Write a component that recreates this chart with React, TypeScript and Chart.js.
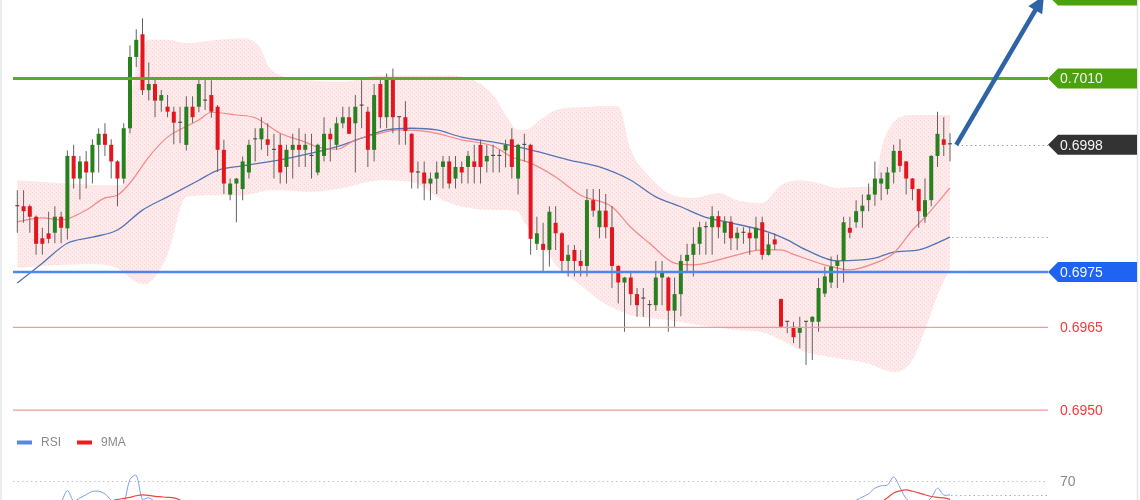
import React, { useEffect, useRef } from 'react';
import { Chart, registerables } from 'chart.js';

Chart.register(...registerables);

// ---------- candle data (index 0..149) ----------
const opens = [
  0.69869, 0.69869, 0.69869, 0.6985, 0.69811, 0.6982, 0.69821, 0.6985, 0.69829, 0.6996,
  0.69919, 0.6995, 0.6993, 0.6998, 0.7, 0.6998, 0.6995, 0.69919, 0.7001, 0.70139,
  0.7018, 0.70079, 0.7009, 0.7006, 0.70049, 0.7004, 0.7002, 0.6998, 0.70049, 0.70049,
  0.7006, 0.7007, 0.70049, 0.69971, 0.6989, 0.6991, 0.699, 0.6993, 0.6999, 0.6999,
  0.6999, 0.69971, 0.6998, 0.6994, 0.69971, 0.6998, 0.69971, 0.6996, 0.6993, 0.6996,
  0.7, 0.6998, 0.70019, 0.7003, 0.70019, 0.70051, 0.7004, 0.69971, 0.7009, 0.7003,
  0.70099, 0.7003, 0.7003, 0.7, 0.6993, 0.6993, 0.6991, 0.69919, 0.6994, 0.6995,
  0.69919, 0.6994, 0.6994, 0.6995, 0.6998, 0.6995, 0.6996, 0.6996, 0.6997, 0.6999,
  0.69919, 0.6998, 0.6998, 0.69801, 0.69801, 0.6979, 0.69839, 0.6982, 0.6977, 0.6979,
  0.6977, 0.69761, 0.6988, 0.69831, 0.69861, 0.69831, 0.69761, 0.69731, 0.6974, 0.6971,
  0.69702, 0.6969, 0.6969, 0.6974, 0.6974, 0.6968, 0.6971, 0.6977, 0.69781, 0.69801,
  0.69831, 0.69831, 0.69851, 0.69821, 0.69841, 0.69811, 0.69821, 0.69821, 0.69811, 0.6984,
  0.69781, 0.69809, 0.69701, 0.6966, 0.69651, 0.6964, 0.6966, 0.6966, 0.6966, 0.69711,
  0.69731, 0.69761, 0.6977, 0.6983, 0.6984, 0.6986, 0.6988, 0.6989, 0.6991, 0.699,
  0.6993, 0.69969, 0.6995, 0.69919, 0.699, 0.6985, 0.6988, 0.6996, 0.6999, 0.69981,
];
const highs = [
  0.69898, 0.69898, 0.69872, 0.69852, 0.6983, 0.69859, 0.69869, 0.69859, 0.6997, 0.6998,
  0.6996, 0.69969, 0.6999, 0.7001, 0.70019, 0.6999, 0.69952, 0.70019, 0.7016, 0.70189,
  0.70209, 0.70129, 0.701, 0.70079, 0.7007, 0.70049, 0.70049, 0.70068, 0.70068, 0.701,
  0.701, 0.70097, 0.70052, 0.69989, 0.69919, 0.6992, 0.69959, 0.69989, 0.7001, 0.7003,
  0.70019, 0.7, 0.7, 0.6998, 0.7, 0.7001, 0.7, 0.7, 0.69982, 0.7003,
  0.7001, 0.7003, 0.70049, 0.70049, 0.7007, 0.70097, 0.70049, 0.7009, 0.70099, 0.70109,
  0.70118, 0.70031, 0.70059, 0.70001, 0.6995, 0.6995, 0.6993, 0.6995, 0.6996, 0.6996,
  0.6996, 0.6995, 0.69969, 0.6998, 0.69989, 0.6998, 0.6998, 0.69971, 0.69989, 0.7001,
  0.69982, 0.7, 0.69982, 0.6985, 0.69839, 0.69869, 0.69869, 0.69822, 0.69799, 0.69799,
  0.6979, 0.699, 0.699, 0.699, 0.69891, 0.69869, 0.69762, 0.69741, 0.69751, 0.69721,
  0.69721, 0.69699, 0.6977, 0.6977, 0.69742, 0.6974, 0.69781, 0.69801, 0.69831, 0.69841,
  0.69841, 0.69869, 0.69861, 0.69851, 0.69851, 0.69831, 0.69831, 0.69831, 0.6985, 0.6985,
  0.6982, 0.6982, 0.69702, 0.69661, 0.6966, 0.69669, 0.69661, 0.6967, 0.69739, 0.6976,
  0.69778, 0.69781, 0.6985, 0.6985, 0.6988, 0.6989, 0.6991, 0.6995, 0.6993, 0.6994,
  0.6998, 0.6999, 0.69951, 0.6992, 0.69901, 0.69919, 0.69961, 0.7004, 0.7003, 0.70001,
];
const lows = [
  0.69821, 0.69839, 0.69821, 0.69781, 0.69781, 0.69802, 0.69802, 0.69802, 0.69809, 0.69901,
  0.69881, 0.69901, 0.6991, 0.6993, 0.6996, 0.69919, 0.69869, 0.6991, 0.70001, 0.70121,
  0.7007, 0.7006, 0.7003, 0.7004, 0.7003, 0.69981, 0.69983, 0.6997, 0.7002, 0.70039,
  0.70043, 0.70029, 0.69931, 0.69891, 0.6988, 0.6984, 0.6988, 0.69919, 0.6995, 0.69971,
  0.6996, 0.69919, 0.6991, 0.6991, 0.69919, 0.6994, 0.6994, 0.69919, 0.69925, 0.6995,
  0.6995, 0.69971, 0.7001, 0.7, 0.6993, 0.7001, 0.6994, 0.6995, 0.7001, 0.7001,
  0.70001, 0.6998, 0.6998, 0.69901, 0.69901, 0.6988, 0.6988, 0.69891, 0.69901, 0.69901,
  0.69901, 0.6991, 0.6991, 0.6991, 0.6991, 0.6993, 0.6993, 0.6993, 0.69939, 0.69919,
  0.6989, 0.6995, 0.69781, 0.6979, 0.69751, 0.6976, 0.6979, 0.69751, 0.69742, 0.69742,
  0.69742, 0.69742, 0.6985, 0.69811, 0.69811, 0.69721, 0.69693, 0.69642, 0.6969, 0.69669,
  0.69669, 0.69651, 0.6968, 0.6969, 0.69642, 0.69651, 0.6967, 0.69751, 0.69742, 0.69781,
  0.69781, 0.69781, 0.69811, 0.69801, 0.6979, 0.6979, 0.69801, 0.69781, 0.6979, 0.69772,
  0.6978, 0.6979, 0.6965, 0.69639, 0.69621, 0.69612, 0.69582, 0.69591, 0.69642, 0.69705,
  0.69721, 0.69721, 0.69731, 0.69811, 0.6983, 0.6983, 0.6986, 0.6987, 0.6988, 0.6989,
  0.6991, 0.69931, 0.6989, 0.6988, 0.6983, 0.69839, 0.69869, 0.6994, 0.6996, 0.6995,
];
const closes = [
  0.69869, 0.6986, 0.6985, 0.69801, 0.69801, 0.6981, 0.6985, 0.6983, 0.6996, 0.69919,
  0.6995, 0.6993, 0.6998, 0.7, 0.6998, 0.6995, 0.69919, 0.7001, 0.70139, 0.7017,
  0.70079, 0.7009, 0.7006, 0.7007, 0.7004, 0.7002, 0.7002, 0.70049, 0.7003, 0.7009,
  0.7006, 0.7004, 0.69971, 0.6991, 0.6991, 0.69919, 0.6995, 0.6998, 0.6999, 0.7001,
  0.6998, 0.69971, 0.6993, 0.69971, 0.6998, 0.69971, 0.6998, 0.6996, 0.6998, 0.7,
  0.6999, 0.70019, 0.7003, 0.7, 0.70049, 0.70051, 0.69971, 0.7007, 0.7003, 0.70099,
  0.7003, 0.7003, 0.70005, 0.6993, 0.6993, 0.6991, 0.69919, 0.6993, 0.6995, 0.6991,
  0.6994, 0.6993, 0.6996, 0.6994, 0.6994, 0.6996, 0.6996, 0.6996, 0.6998, 0.6994,
  0.6998, 0.6998, 0.6981, 0.6982, 0.6979, 0.69859, 0.6982, 0.6977, 0.69781, 0.6977,
  0.69761, 0.6988, 0.69861, 0.69861, 0.69831, 0.69761, 0.69731, 0.6974, 0.6971, 0.6969,
  0.69702, 0.6969, 0.6974, 0.69751, 0.6968, 0.6971, 0.6977, 0.69781, 0.69801, 0.69831,
  0.69831, 0.69851, 0.69831, 0.69841, 0.69811, 0.69821, 0.69821, 0.69811, 0.6983, 0.69781,
  0.698, 0.698, 0.69651, 0.6966, 0.69632, 0.6965, 0.6966, 0.69669, 0.69721, 0.69742,
  0.6976, 0.6977, 0.6984, 0.69821, 0.6986, 0.6987, 0.6989, 0.69919, 0.69919, 0.6993,
  0.69969, 0.69942, 0.69919, 0.699, 0.6986, 0.6988, 0.6996, 0.7, 0.6998, 0.69981,
];

// ---------- Bollinger band (read at sampled candle indices) ----------
const bandIdx = [0, 4, 7, 10, 13, 16, 17, 18, 19, 20, 21, 24, 27, 32, 36, 39, 40, 42, 47, 52, 58, 63, 68, 72, 76, 78, 80, 81, 84, 86, 90, 93, 96, 98, 101, 104, 108, 112, 115, 119, 122, 125, 128, 131, 135, 137, 138, 140, 143, 145, 147, 149];
const bandUpper = [0.69916, 0.69913, 0.69911, 0.69909, 0.69907, 0.69907, 0.69911, 0.70043, 0.70124, 0.70155, 0.7017, 0.7017, 0.70164, 0.7017, 0.70173, 0.70152, 0.70124, 0.70106, 0.70097, 0.70094, 0.70106, 0.70106, 0.70106, 0.70101, 0.7007, 0.70034, 0.70007, 0.70007, 0.70029, 0.70043, 0.70048, 0.7005, 0.7005, 0.69971, 0.69922, 0.69893, 0.69884, 0.69893, 0.6988, 0.69875, 0.69907, 0.69916, 0.69911, 0.69902, 0.69904, 0.69904, 0.69971, 0.70021, 0.70034, 0.70034, 0.70034, 0.70034];
const bandLower = [0.69757, 0.69761, 0.69763, 0.69764, 0.69764, 0.69757, 0.6975, 0.69739, 0.69732, 0.69728, 0.6973, 0.69781, 0.69886, 0.69889, 0.69889, 0.69895, 0.69898, 0.69898, 0.69895, 0.69902, 0.69916, 0.69913, 0.6988, 0.69866, 0.69862, 0.69862, 0.69859, 0.6984, 0.69799, 0.69763, 0.69726, 0.69699, 0.69681, 0.69672, 0.69667, 0.69663, 0.69656, 0.69649, 0.69645, 0.69641, 0.69627, 0.69609, 0.696, 0.69594, 0.69587, 0.6958, 0.69575, 0.69569, 0.69591, 0.69645, 0.69708, 0.69757];

// ---------- moving averages ----------
const maRedIdx = [0, 4, 7, 11, 14, 16, 18, 21, 24, 28, 29, 31, 35, 38, 42, 46, 48, 51, 54, 57, 61, 66, 71, 76, 79, 82, 86, 90, 95, 98, 101, 105, 108, 112, 115, 119, 122, 124, 129, 133, 137, 140, 143, 145, 149];
const maRedVals = [0.69841, 0.69848, 0.69844, 0.69862, 0.69884, 0.69889, 0.69911, 0.69958, 0.69994, 0.70019, 0.70025, 0.70039, 0.70034, 0.70029, 0.70001, 0.69985, 0.69976, 0.69972, 0.69989, 0.69998, 0.70007, 0.70003, 0.69989, 0.69978, 0.69958, 0.69947, 0.69922, 0.69889, 0.69868, 0.69831, 0.69802, 0.69766, 0.69763, 0.69772, 0.69781, 0.6979, 0.6979, 0.69782, 0.69763, 0.69754, 0.69766, 0.69784, 0.69826, 0.69849, 0.69902];
const maBlueIdx = [0, 4, 8, 12, 16, 20, 24, 29, 32, 36, 42, 47, 52, 55, 59, 63, 67, 71, 77, 82, 88, 93, 98, 102, 106, 110, 114, 120, 123, 126, 131, 137, 140, 144, 149];
const maBlueVals = [0.6973, 0.69766, 0.69802, 0.69813, 0.69826, 0.69862, 0.69886, 0.69916, 0.69934, 0.69942, 0.69953, 0.69965, 0.6998, 0.69992, 0.70007, 0.7001, 0.70007, 0.69994, 0.69983, 0.69971, 0.69953, 0.6994, 0.69916, 0.69886, 0.69868, 0.69849, 0.69839, 0.69822, 0.69808, 0.6979, 0.6977, 0.69775, 0.69786, 0.6979, 0.69813];

// ---------- RSI panel (only the visible upper part) ----------
const rsiIdx = [6, 7, 8, 9, 10, 11, 12, 13, 14, 15, 16, 17, 18, 19, 20, 21, 22, 23, 80, 133, 134, 135, 136, 137, 138, 139, 140, 141, 142, 143, 144, 145, 146, 147, 148, 149];
const rsiVals = [54, 57, 64, 57.5, 59.4, 61.5, 63.5, 63.6, 62, 57.8, 53, 56, 71, 73.5, 58.5, 59.5, 57, 54, null, 56, 58, 60, 62, 65.5, 67, 67.5, 72.5, 66, 59, 56, 55, 56.5, 59.5, 65.5, 61.25, 61.25];
const rsiMaIdx = [14, 15, 16, 17, 18, 19, 20, 21, 22, 23, 24, 25, 26, 27, 80, 137, 138, 139, 140, 141, 142, 143, 144, 145, 146, 147, 148, 149];
const rsiMaVals = [56, 57.5, 58.4, 59.1, 59.8, 60.8, 61.3, 61, 60.4, 60.1, 59.8, 59.4, 58.1, 56, null, 54, 56.5, 59.5, 62.5, 63.8, 64.4, 63.6, 62.6, 61.4, 60.3, 59.8, 59.4, 58.5];
const rsiLevel = 70;
const rsiLevelLabel = '70';

// ---------- levels ----------
const levelValues = [0.7025, 0.701, 0.6998, 0.6975, 0.6965, 0.695];
const levelLabels = ['', '0.7010', '0.6998', '0.6975', '0.6965', '0.6950'];
const levelKinds = ['target', 'resistance', 'price', 'support', 'minor', 'minor'];
const arrowFrom = [150, 0.6998];
const arrowTo = [164, 0.7025];

const FONT = '"Liberation Sans", Arial, sans-serif';

function dotted(ctx: CanvasRenderingContext2D, x1: number, x2: number, y: number, color: string) {
  ctx.save();
  ctx.strokeStyle = color;
  ctx.lineWidth = 1;
  ctx.setLineDash([1.5, 3]);
  ctx.beginPath();
  ctx.moveTo(x1, Math.round(y) + 0.5);
  ctx.lineTo(x2, Math.round(y) + 0.5);
  ctx.stroke();
  ctx.restore();
}

function tag(ctx: CanvasRenderingContext2D, y: number, color: string) {
  ctx.fillStyle = color;
  ctx.beginPath();
  ctx.moveTo(1048, y);
  ctx.lineTo(1058, y - 10);
  ctx.lineTo(1137, y - 10);
  ctx.lineTo(1137, y + 10);
  ctx.lineTo(1058, y + 10);
  ctx.closePath();
  ctx.fill();
}

const overlayPlugin = {
  id: 'overlay',
  afterDatasetsDraw(chart: any) {
    const ctx: CanvasRenderingContext2D = chart.ctx;
    const xs = chart.scales.x;
    const ys = chart.scales.y;
    const yr = chart.scales.yr;
    const lineStart = 13;
    const lineEnd = 1048;
    const textX = 1060;
    ctx.save();

    // frame
    ctx.strokeStyle = '#e2e7ec';
    ctx.lineWidth = 1.5;
    ctx.beginPath();
    ctx.moveTo(1, 0);
    ctx.lineTo(1, 500);
    ctx.moveTo(1137.5, 0);
    ctx.lineTo(1137.5, 500);
    ctx.stroke();

    const lastX = xs.getPixelForValue(closes.length - 1);

    // MA and RSI extensions
    dotted(ctx, lastX + 2, lineEnd, ys.getPixelForValue(maBlueVals[maBlueVals.length - 1]), '#8ea7d8');
    dotted(ctx, lineStart, lineEnd, yr.getPixelForValue(rsiLevel), '#c2c2c2');
    dotted(ctx, lastX + 1, lineEnd, yr.getPixelForValue(rsiVals[rsiVals.length - 1] as number), '#9db3e8');

    ctx.font = `14px ${FONT}`;
    ctx.textBaseline = 'middle';
    ctx.textAlign = 'left';
    ctx.fillStyle = '#8a8a8a';
    ctx.fillText(rsiLevelLabel, textX, yr.getPixelForValue(rsiLevel) + 1);

    // levels
    levelValues.forEach((v, i) => {
      const y = ys.getPixelForValue(v);
      const kind = levelKinds[i];
      if (kind === 'resistance' || kind === 'support' || kind === 'minor') {
        ctx.save();
        ctx.strokeStyle = kind === 'resistance' ? '#5dab22' : kind === 'support' ? '#4f86ee' : '#f39a9a';
        ctx.lineWidth = kind === 'resistance' ? 3 : kind === 'support' ? 2.5 : 1.3;
        ctx.beginPath();
        ctx.moveTo(lineStart, y);
        ctx.lineTo(lineEnd, y);
        ctx.stroke();
        ctx.restore();
      }
      if (kind === 'price') {
        dotted(ctx, lastX + 7, lineEnd, y, '#a0a0a0');
      }
      if (kind === 'target' || kind === 'resistance') tag(ctx, y, '#4ca20c');
      if (kind === 'price') tag(ctx, y, '#333333');
      if (kind === 'support') tag(ctx, y, '#1f63f2');
      if (levelLabels[i]) {
        ctx.font = `14px ${FONT}`;
        ctx.fillStyle = kind === 'minor' ? '#f53b3b' : '#f4f4f4';
        ctx.fillText(levelLabels[i], textX, y + 1);
      }
    });

    // arrow
    const ax1 = xs.getPixelForValue(arrowFrom[0]);
    const ay1 = ys.getPixelForValue(arrowFrom[1]);
    const ax2 = xs.getPixelForValue(arrowTo[0]);
    const ay2 = ys.getPixelForValue(arrowTo[1]);
    const dx = ax2 - ax1;
    const dy = ay2 - ay1;
    const len = Math.sqrt(dx * dx + dy * dy);
    const ux = dx / len;
    const uy = dy / len;
    const headLen = 17;
    const headHalf = 8;
    const bx = ax2 - ux * headLen;
    const by = ay2 - uy * headLen;
    ctx.strokeStyle = '#2e64a6';
    ctx.fillStyle = '#2e64a6';
    ctx.lineWidth = 4.5;
    ctx.lineCap = 'butt';
    ctx.beginPath();
    ctx.moveTo(ax1, ay1);
    ctx.lineTo(bx + ux * 2, by + uy * 2);
    ctx.stroke();
    ctx.beginPath();
    ctx.moveTo(ax2, ay2);
    ctx.lineTo(bx - uy * headHalf, by + ux * headHalf);
    ctx.lineTo(bx + uy * headHalf, by - ux * headHalf);
    ctx.closePath();
    ctx.fill();

    // RSI legend
    ctx.font = `12px ${FONT}`;
    ctx.fillStyle = '#5b86e5';
    ctx.fillRect(17, 440.5, 15, 4);
    ctx.fillStyle = '#ee1c1c';
    ctx.fillRect(77, 440.5, 15, 4);
    ctx.fillStyle = '#8a8a8a';
    ctx.fillText('RSI', 41, 442.5);
    ctx.fillText('9MA', 101, 442.5);

    ctx.restore();
  },
};

export default function App() {
  const ref = useRef<HTMLCanvasElement | null>(null);

  useEffect(() => {
    const canvas = ref.current;
    if (!canvas) return;
    const c2d = canvas.getContext('2d') as CanvasRenderingContext2D;
    const tile = document.createElement('canvas');
    tile.width = 4;
    tile.height = 4;
    const t = tile.getContext('2d') as CanvasRenderingContext2D;
    t.fillStyle = '#fee9eb';
    t.fillRect(0, 0, 4, 4);
    t.fillStyle = '#fad5d8';
    t.fillRect(0, 0, 1, 1);
    t.fillRect(2, 2, 1, 1);
    const pattern = c2d.createPattern(tile, 'repeat');

    const GREEN = '#28801f';
    const RED = '#e4161d';
    const DOJI = '#3a3a3a';
    const bodyColors = opens.map((o, i) => (closes[i] > o ? GREEN : closes[i] < o ? RED : DOJI));

    const chart = new Chart(canvas, {
      type: 'line',
      data: {
        datasets: [
          {
            type: 'line',
            label: 'BB upper',
            data: bandIdx.map((x, i) => ({ x, y: bandUpper[i] })),
            borderWidth: 0,
            borderColor: 'rgba(0,0,0,0)',
            pointRadius: 0,
            fill: false,
            cubicInterpolationMode: 'monotone',
            order: 10,
          },
          {
            type: 'line',
            label: 'BB lower',
            data: bandIdx.map((x, i) => ({ x, y: bandLower[i] })),
            borderWidth: 0,
            borderColor: 'rgba(0,0,0,0)',
            backgroundColor: pattern as any,
            pointRadius: 0,
            fill: { target: 0 },
            cubicInterpolationMode: 'monotone',
            order: 10,
          },
          {
            type: 'line',
            label: 'MA slow',
            data: maBlueIdx.map((x, i) => ({ x, y: maBlueVals[i] })),
            borderColor: '#5275b4',
            borderWidth: 1.3,
            pointRadius: 0,
            fill: false,
            cubicInterpolationMode: 'monotone',
            order: 6,
          },
          {
            type: 'line',
            label: 'MA fast',
            data: maRedIdx.map((x, i) => ({ x, y: maRedVals[i] })),
            borderColor: '#f28a8a',
            borderWidth: 1.2,
            pointRadius: 0,
            fill: false,
            cubicInterpolationMode: 'monotone',
            order: 5,
          },
          {
            type: 'bar',
            label: 'wicks',
            data: closes.map((_, i) => ({ x: i, y: [lows[i], highs[i]] })) as any,
            backgroundColor: '#626262',
            barThickness: 1,
            grouped: false,
            inflateAmount: 0,
            order: 3,
          } as any,
          {
            type: 'bar',
            label: 'bodies',
            data: closes.map((c, i) => ({ x: i, y: [opens[i], c] })) as any,
            backgroundColor: bodyColors,
            barThickness: 4,
            minBarLength: 1,
            grouped: false,
            inflateAmount: 0,
            order: 2,
          } as any,
          {
            type: 'line',
            label: 'RSI',
            yAxisID: 'yr',
            data: rsiIdx.map((x, i) => ({ x, y: rsiVals[i] })) as any,
            borderColor: '#7d9de7',
            borderWidth: 1,
            pointRadius: 0,
            fill: false,
            tension: 0.3,
            order: 1,
          },
          {
            type: 'line',
            label: '9MA',
            yAxisID: 'yr',
            data: rsiMaIdx.map((x, i) => ({ x, y: rsiMaVals[i] })) as any,
            borderColor: '#f04545',
            borderWidth: 1.2,
            pointRadius: 0,
            fill: false,
            tension: 0.3,
            order: 0,
          },
        ],
      },
      options: {
        animation: false,
        responsive: false,
        events: [],
        layout: { padding: 0 },
        plugins: {
          legend: { display: false },
          tooltip: { enabled: false },
          title: { display: false },
        },
        scales: {
          x: { type: 'linear', display: false, offset: false, min: -2.764, max: 179.35 },
          y: { type: 'linear', display: false, min: 0.693376, max: 0.70242 },
          yr: { type: 'linear', display: false, min: 58.125, max: 370.625 },
        },
      } as any,
      plugins: [overlayPlugin],
    });

    return () => chart.destroy();
  }, []);

  return (
    <div style={{ position: 'absolute', left: 0, top: 0, width: 1140, height: 500, background: '#ffffff', overflow: 'hidden' }}>
      <canvas ref={ref} width={1140} height={500} style={{ display: 'block' }} />
    </div>
  );
}
